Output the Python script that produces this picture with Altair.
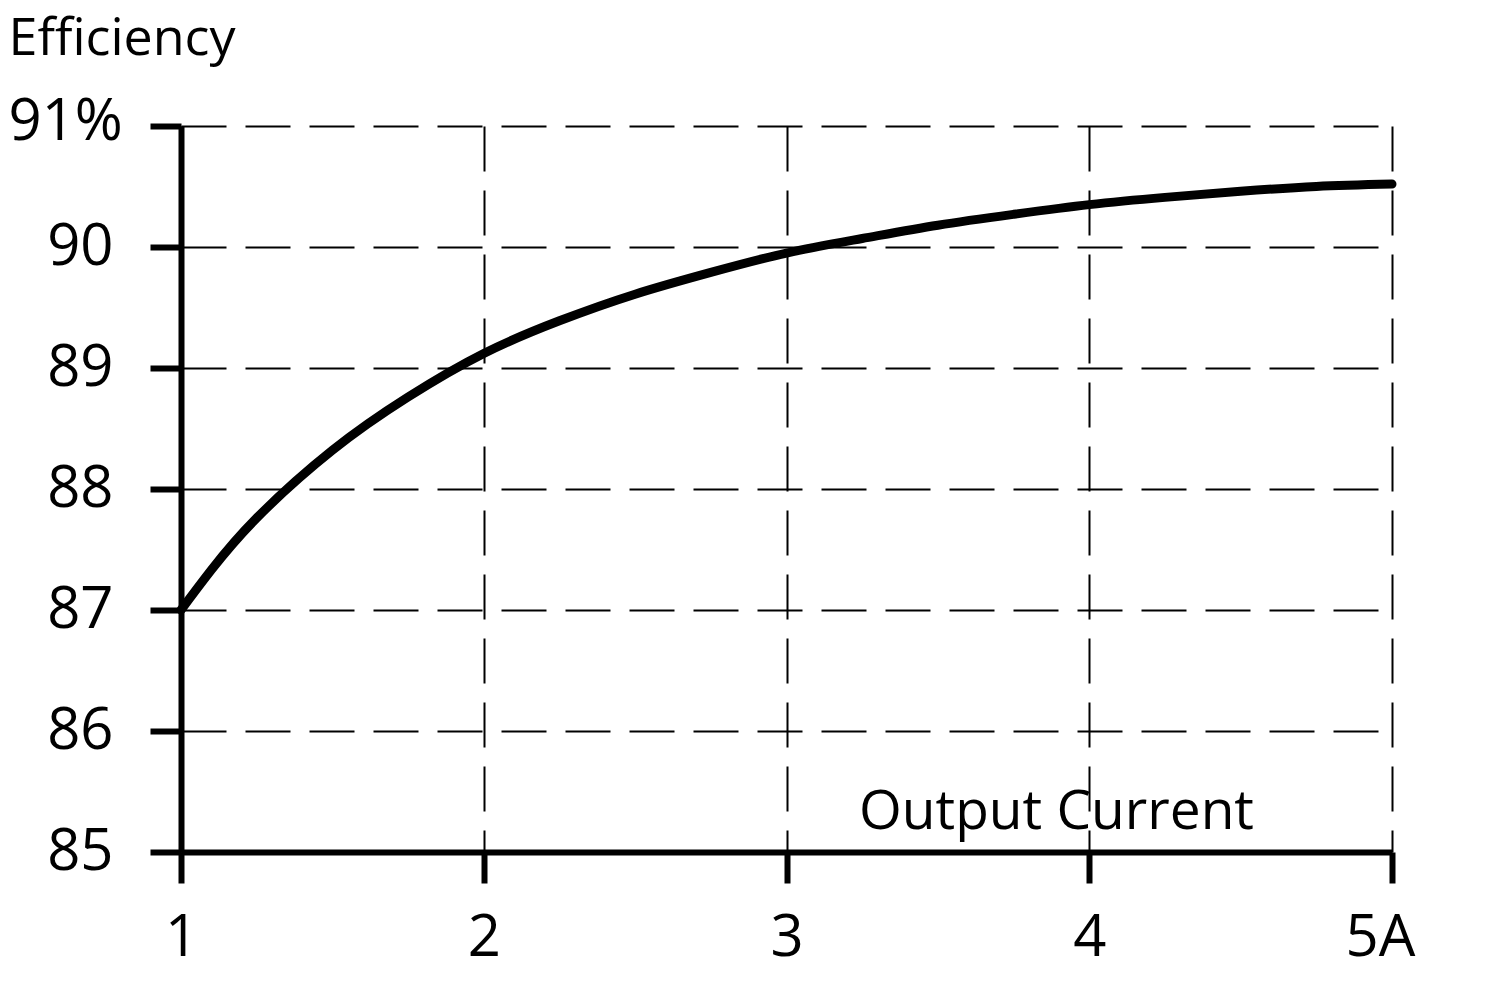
import altair as alt
import pandas as pd

# Data
current = [1.0, 1.1, 1.25, 1.5, 1.75, 2.0, 2.25, 2.5, 2.75, 3.0, 3.25, 3.5, 3.75, 4.0, 4.25, 4.5, 4.75, 5.0]
efficiency = [87.0, 87.33, 87.76, 88.32, 88.76, 89.12, 89.39, 89.61, 89.79, 89.95, 90.07, 90.18, 90.27,
              90.35, 90.41, 90.46, 90.5, 90.52]
x_ticks = [1, 2, 3, 4, 5]
y_ticks = [85, 86, 87, 88, 89, 90, 91]

df = pd.DataFrame({"current": current, "efficiency": efficiency})

FONT = "Open Sans"

x_axis = alt.Axis(
    values=x_ticks,
    labelExpr="datum.value == 5 ? '5A' : datum.label",
    labelOffset={"condition": {"test": "datum.value == 5", "value": -12}, "value": 0},
    title="Output Current",
    titleX=875, titleY=-24, titleAlign="center", titleBaseline="alphabetic",
    titleFont=FONT, titleFontSize=55, titleFontWeight="normal", titleColor="black",
    labelFont=FONT, labelFontSize=58, labelColor="black",
    labelBaseline="alphabetic", labelPadding=72, labelFlush=False,
    labelOverlap=False, labelBound=False,
    tickSize=31, tickWidth=6, tickColor="black",
    domainWidth=6, domainColor="black",
    grid=True, gridDash=[45, 19], gridColor="black", gridWidth=2, gridOpacity=1,
)

y_axis = alt.Axis(
    values=y_ticks,
    labelExpr="datum.value == 91 ? '91%' : datum.label",
    labelAlign={"condition": {"test": "datum.value == 91", "value": "left"}, "value": "right"},
    labelPadding={"condition": {"test": "datum.value == 91", "value": 142}, "value": 37},
    labelOffset={"condition": {"test": "datum.value == 91", "value": -4}, "value": 0},
    labelBaseline="middle",
    title="Efficiency",
    titleAngle=0, titleX=-173, titleY=-72, titleAlign="left", titleBaseline="alphabetic",
    titleFont=FONT, titleFontSize=52, titleFontWeight="normal", titleColor="black",
    labelFont=FONT, labelFontSize=58, labelColor="black",
    labelOverlap=False, labelBound=False, labelFlush=False,
    tickSize=31, tickWidth=6, tickColor="black",
    domainWidth=6, domainColor="black",
    grid=True, gridDash=[45, 19], gridColor="black", gridWidth=2, gridOpacity=1,
)

chart = (
    alt.Chart(df)
    .mark_line(color="black", strokeWidth=9, strokeCap="round", strokeJoin="round", interpolate="natural")
    .encode(
        x=alt.X("current:Q", scale=alt.Scale(domain=[1, 5], nice=False, zero=False), axis=x_axis),
        y=alt.Y("efficiency:Q", scale=alt.Scale(domain=[85, 91], nice=False, zero=False), axis=y_axis),
    )
    .properties(
        width=1211,
        height=726,
        autosize=alt.AutoSizeParams(type="none"),
        padding={"left": 173, "top": 118, "right": 90, "bottom": 140},
        background="white",
    )
    .configure_view(stroke=None)
)

chart.save("out.html", embed_options={"renderer": "svg", "actions": False})
